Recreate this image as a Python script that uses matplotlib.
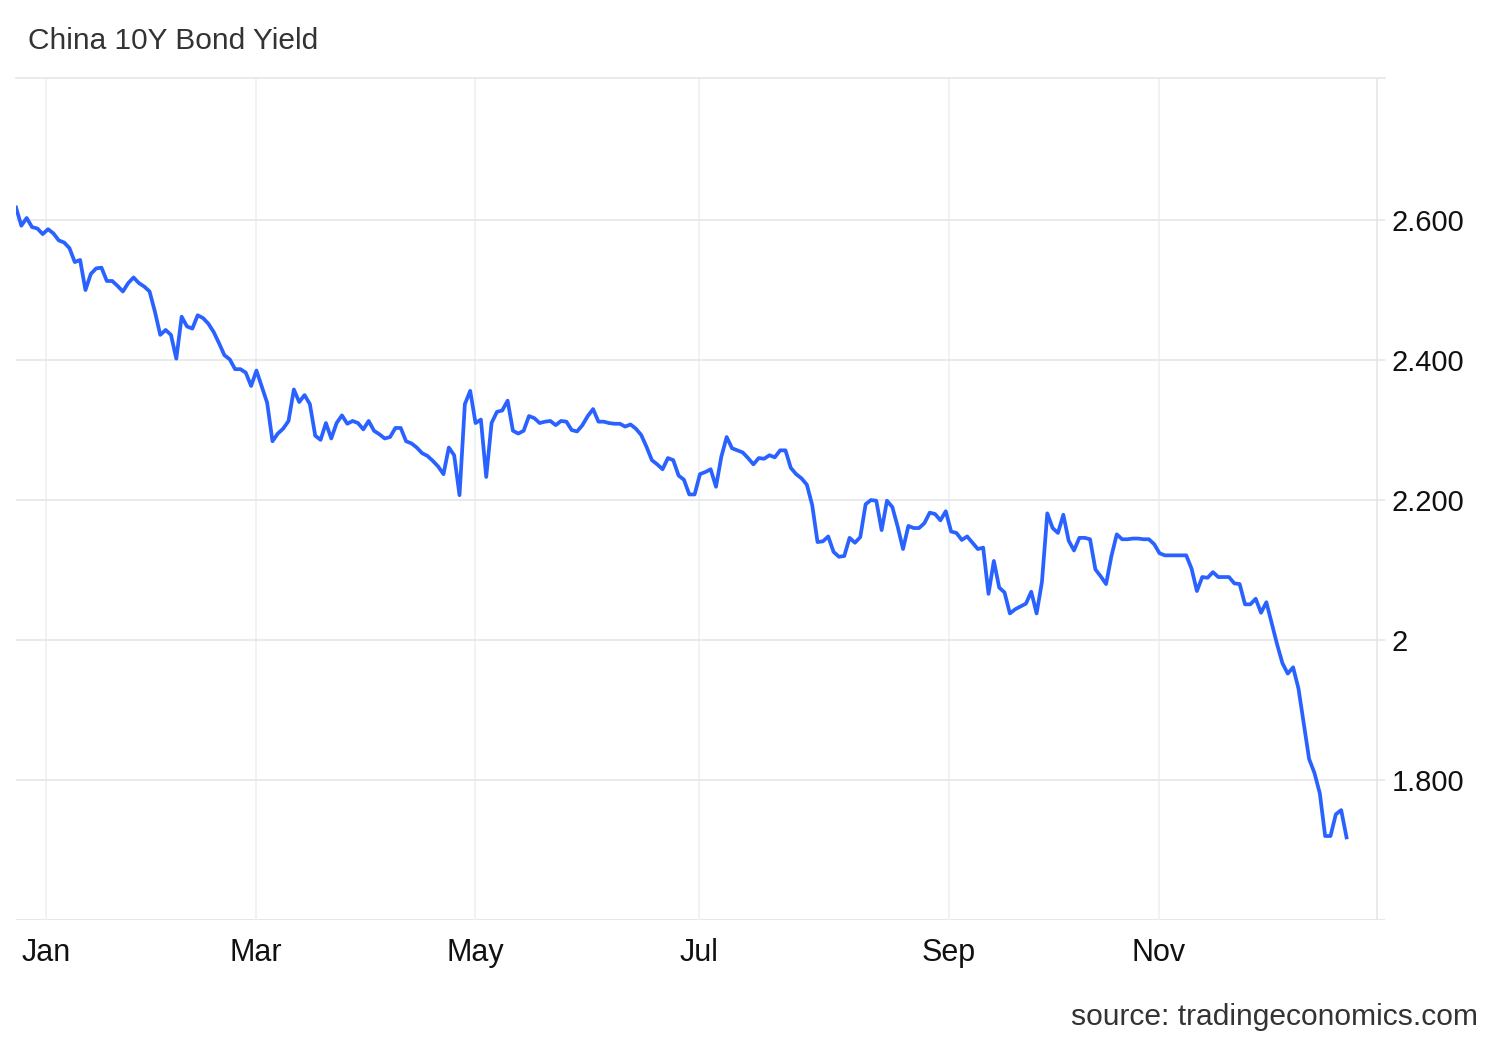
import matplotlib
matplotlib.use("Agg")
import matplotlib.pyplot as plt
import numpy as np

plt.rcParams['font.family'] = ['Liberation Sans', 'DejaVu Sans']

# daily yield (%), one value per trading day, late Dec 2023 -> mid Dec 2024
yields = [
    2.618, 2.592, 2.603, 2.590, 2.588, 2.580, 2.587, 2.581, 2.571, 2.568,
    2.560, 2.540, 2.543, 2.500, 2.523, 2.531, 2.532, 2.513, 2.513, 2.506,
    2.498, 2.510, 2.518, 2.510, 2.505, 2.498, 2.469, 2.436, 2.443, 2.436,
    2.402, 2.462, 2.448, 2.445, 2.464, 2.460, 2.452, 2.440, 2.424, 2.407,
    2.401, 2.387, 2.387, 2.382, 2.363, 2.385, 2.362, 2.339, 2.284, 2.295,
    2.302, 2.313, 2.358, 2.340, 2.350, 2.337, 2.292, 2.286, 2.310, 2.288,
    2.310, 2.321, 2.309, 2.313, 2.310, 2.301, 2.313, 2.299, 2.294, 2.288,
    2.290, 2.303, 2.303, 2.284, 2.281, 2.275, 2.267, 2.263, 2.256, 2.248,
    2.237, 2.275, 2.264, 2.207, 2.337, 2.356, 2.310, 2.315, 2.233, 2.310,
    2.326, 2.328, 2.342, 2.299, 2.295, 2.299, 2.320, 2.317, 2.310, 2.312,
    2.313, 2.307, 2.313, 2.312, 2.300, 2.298, 2.307, 2.320, 2.330, 2.312,
    2.312, 2.310, 2.309, 2.309, 2.305, 2.308, 2.302, 2.293, 2.276, 2.257,
    2.251, 2.244, 2.260, 2.257, 2.235, 2.229, 2.208, 2.208, 2.237, 2.240,
    2.244, 2.219, 2.262, 2.290, 2.274, 2.271, 2.268, 2.260, 2.251, 2.260,
    2.259, 2.264, 2.261, 2.271, 2.271, 2.246, 2.237, 2.231, 2.222, 2.193,
    2.140, 2.141, 2.148, 2.126, 2.119, 2.120, 2.146, 2.139, 2.147, 2.194,
    2.200, 2.199, 2.157, 2.199, 2.190, 2.162, 2.130, 2.163, 2.160, 2.160,
    2.167, 2.182, 2.180, 2.171, 2.184, 2.155, 2.153, 2.143, 2.148, 2.139,
    2.130, 2.132, 2.066, 2.113, 2.075, 2.068, 2.038, 2.044, 2.048, 2.052,
    2.069, 2.038, 2.083, 2.181, 2.160, 2.153, 2.179, 2.142, 2.128, 2.146,
    2.146, 2.144, 2.101, 2.091, 2.080, 2.120, 2.151, 2.144, 2.144, 2.145,
    2.145, 2.144, 2.144, 2.137, 2.124, 2.121, 2.121, 2.121, 2.121, 2.121,
    2.102, 2.070, 2.090, 2.089, 2.097, 2.090, 2.090, 2.090, 2.081, 2.080,
    2.051, 2.051, 2.059, 2.039, 2.054, 2.024, 1.994, 1.967, 1.952, 1.961,
    1.931, 1.881, 1.830, 1.810, 1.781, 1.720, 1.720, 1.751, 1.757, 1.718,
]

# trading-day index where each labelled month starts
month_pos = [5.6, 44.9, 85.9, 127.8, 174.6, 213.9]
month_labels = ["Jan", "Mar", "May", "Jul", "Sep", "Nov"]

ytick_vals = [1.8, 2.0, 2.2, 2.4, 2.6]
ytick_labels = ["1.800", "2", "2.200", "2.400", "2.600"]

fig = plt.figure(figsize=(15, 10.4), dpi=100)
ax = fig.add_axes([16 / 1500, 120 / 1040, 1369 / 1500, 842 / 1040])

x = np.arange(len(yields))
ax.plot(x, yields, color="#2962ff", lw=2.7, solid_joinstyle="round", zorder=3)

ax.set_xlim(0, 256.2)
ax.set_ylim(1.6, 2.803)

for s in ["left", "right", "bottom"]:
    ax.spines[s].set_visible(False)
ax.spines["top"].set_color("#e6e6e6")
ax.spines["top"].set_linewidth(1.2)
ax.axhline(1.6, color="#e0e0e0", lw=1.8, zorder=1)
ax.axvline(254.7, color="#e6e6e6", lw=1.2, zorder=1)

ax.set_yticks(ytick_vals)
ax.set_yticklabels(ytick_labels)
ax.yaxis.tick_right()
ax.set_xticks(month_pos)
ax.set_xticklabels(month_labels)
ax.tick_params(axis="y", length=0, pad=5, labelsize=21, labelcolor="#111111")
ax.tick_params(axis="x", length=0, pad=13, labelsize=22, labelcolor="#111111")

ax.grid(axis="y", color="#e6e6e6", lw=1.2, zorder=0)
ax.grid(axis="x", color="#eef1f5", lw=1.2, zorder=0)

fig.text(28 / 1500, 1 - 41 / 1040, "China 10Y Bond Yield", fontsize=21.5,
         color="#333333", ha="left", va="center")
fig.text(1478 / 1500, 1 - 1017 / 1040, "source: tradingeconomics.com",
         fontsize=21.6, color="#333333", ha="right", va="center")

fig.savefig("out.png", dpi=100, facecolor="white")
